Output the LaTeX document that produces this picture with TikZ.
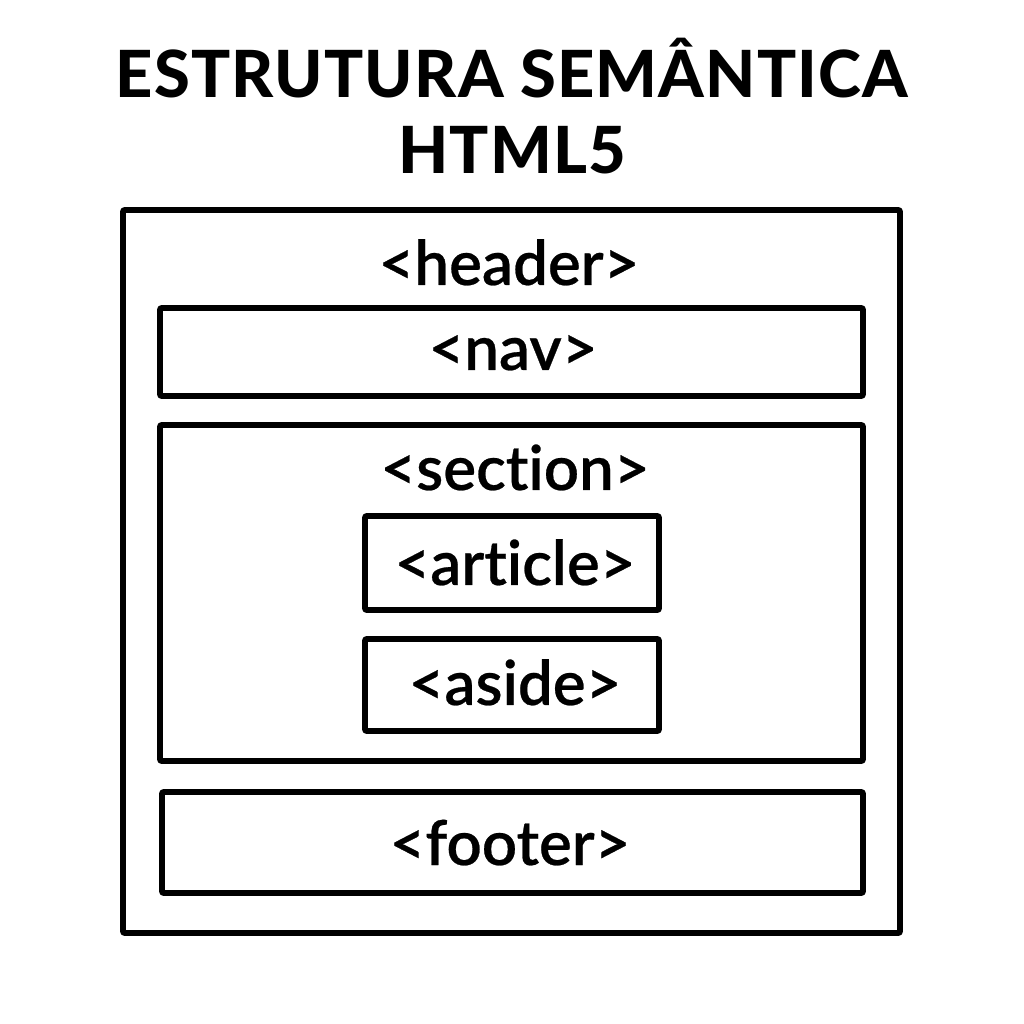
\documentclass[tikz,border=0pt]{standalone}
\usepackage{fontspec}
\setmainfont{Lato}[Ligatures=NoCommon]
\newfontfamily\tagfont{Lato Semibold}[Ligatures=NoCommon, FakeBold=0.4]
\newfontfamily\titlefont{Lato Heavy}[Ligatures=NoCommon, LetterSpace=1.8]
\usepackage{tikz}
\usetikzlibrary{positioning}
\tikzset{
    box/.style={line width=1.7pt, rounded corners=0.6pt},
    tag/.style={anchor=base, font=\tagfont\fontsize{17.6}{20}\selectfont},
    titletext/.style={anchor=base, font=\titlefont\fontsize{18.5}{20}\selectfont}
}

\begin{document}
\begin{tikzpicture}
    \useasboundingbox (0, 0) rectangle (10.24, 10.24);

    \draw (5.12, 9.26) node[titletext] (title1) {ESTRUTURA SEMÂNTICA} ;
    \draw (5.12, 8.50) node[titletext] (title2) {HTML5} ;

    \draw[box] (1.23, 0.91) rectangle (9.00, 8.14);
    \draw (5.09, 7.39) node[tag] (header) {<header>} ;

    \draw[box] (1.60, 6.28) rectangle (8.63, 7.16);
    \draw (5.13, 6.54) node[tag] (nav) {<nav>} ;

    \draw[box] (1.60, 2.63) rectangle (8.63, 5.99);
    \draw (5.15, 5.34) node[tag] (section) {<section>} ;

    \draw[box] (3.65, 4.14) rectangle (6.59, 5.08);
    \draw (5.15, 4.39) node[tag] (article) {<article>} ;

    \draw[box] (3.65, 2.93) rectangle (6.59, 3.85);
    \draw (5.15, 3.19) node[tag] (aside) {<aside>} ;

    \draw[box] (1.62, 1.31) rectangle (8.63, 2.32);
    \draw (5.10, 1.59) node[tag] (footer) {<footer>} ;
\end{tikzpicture}
\end{document}
